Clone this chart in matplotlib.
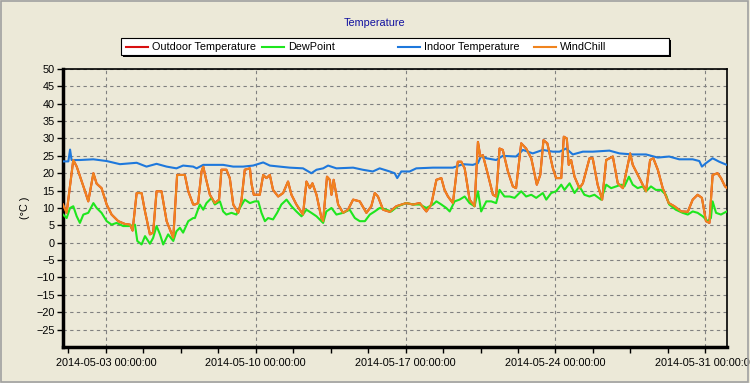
import pandas as pd
import matplotlib
matplotlib.use("Agg")
import matplotlib.pyplot as plt
from matplotlib.lines import Line2D
from matplotlib.patches import Rectangle


START = pd.Timestamp("2014-05-01")
END = pd.Timestamp("2014-06-01")

# values, time in days after 2014-05-01 00:00

chill_days = [
    0.0, 0.17, 0.48, 0.64, 1.03, 1.18, 1.42, 1.57, 1.8, 2.04, 2.27, 2.58, 2.89,
    3.13, 3.25, 3.44, 3.67, 3.83, 4.06, 4.21, 4.37, 4.6, 4.84, 5.15, 5.33, 5.69,
    5.85, 6.08, 6.16, 6.31, 6.47, 6.55, 6.67, 6.86, 7.09, 7.29, 7.4, 7.63, 7.79,
    7.95, 8.18, 8.33, 8.49, 8.73, 8.8, 8.91, 9.19, 9.35, 9.5, 9.66, 9.81, 10.05,
    10.28, 10.51, 10.67, 10.9, 11.21, 11.37, 11.53, 11.65, 11.84, 12.07, 12.15,
    12.33, 12.46, 12.54, 12.64, 12.85, 13.08, 13.31, 13.55, 13.86, 14.17, 14.4,
    14.56, 14.71, 14.95, 15.26, 15.57, 16.03, 16.35, 16.66, 16.97, 17.2, 17.44,
    17.67, 17.82, 17.98, 18.21, 18.44, 18.6, 18.76, 18.99, 19.22, 19.38, 19.49,
    19.61, 19.85, 20.08, 20.23, 20.39, 20.54, 20.78, 21.01, 21.16, 21.4, 21.63,
    21.87, 22.13, 22.29, 22.44, 22.62, 22.88, 23.03, 23.27, 23.39, 23.53, 23.62,
    23.73, 23.89, 24.12, 24.28, 24.59, 24.74, 24.97, 25.18, 25.37, 25.68, 25.91,
    26.15, 26.38, 26.49, 26.61, 26.92, 27.23, 27.42, 27.57, 27.78, 28.01, 28.29,
    28.55, 28.87, 29.18, 29.41, 29.64, 29.84, 30.03, 30.19, 30.34, 30.57, 30.73,
    30.92, 31.0,
]
wind_chill = [
    11.0, 8.6, 23.8, 21.9, 14.8, 11.9, 20.0, 17.0, 15.7, 11.0, 8.1, 6.2, 5.4,
    5.2, 3.5, 14.3, 14.3, 9.0, 2.4, 2.9, 14.8, 14.8, 6.2, 1.4, 19.5, 19.5,
    14.8, 11.0, 11.0, 11.4, 20.5, 21.9, 18.6, 13.8, 11.4, 12.4, 21.0, 21.0, 18.6,
    11.0, 8.6, 11.9, 21.0, 21.4, 17.1, 13.8, 13.8, 19.5, 18.6, 19.5, 15.2, 13.3,
    14.3, 17.6, 13.8, 11.0, 8.1, 17.6, 15.7, 17.1, 13.8, 7.1, 6.2,
    19.0, 18.1, 13.8, 18.1, 11.0, 8.6, 9.5, 12.4, 11.9, 8.6, 10.5,
    14.3, 13.3, 9.5, 8.9, 10.5, 11.4, 11.0, 11.4, 9.0, 11.0, 18.1,
    18.6, 15.2, 13.3, 11.4, 23.3, 23.3, 21.4, 12.4, 10.5, 29.0, 24.8,
    25.2, 19.5, 13.8, 13.3, 27.1, 26.7, 20.5, 16.2, 15.7, 28.6, 27.1,
    24.3, 16.7, 19.5, 29.5, 28.6, 21.4, 18.6, 18.6, 30.5, 30.0, 22.4,
    23.8, 19.0, 15.7, 17.1, 24.3, 24.3, 16.7, 12.4, 23.8, 24.8, 17.1,
    15.7, 22.4, 25.7, 22.4, 18.6, 14.8, 23.8, 24.3, 21.0, 15.7, 11.4,
    10.5, 9.0, 8.9, 12.4, 13.8, 12.9, 6.2, 5.7, 19.5, 20.0, 18.6,
    16.2, 15.8,
]
# outdoor temperature equals wind chill here (hidden under the orange line)
outdoor_temp = list(wind_chill)

dew_days = [
    0.0, 0.17, 0.33, 0.48, 0.64, 0.79, 0.95, 1.18, 1.42, 1.57, 1.8, 2.04, 2.27,
    2.5, 2.81, 3.13, 3.36, 3.47, 3.67, 3.83, 4.06, 4.21, 4.37, 4.53, 4.68, 4.91,
    5.15, 5.3, 5.46, 5.61, 5.85, 6.08, 6.16, 6.39, 6.55, 6.7, 6.94, 7.09, 7.33,
    7.48, 7.63, 7.87, 8.1, 8.26, 8.49, 8.73, 8.96, 9.12, 9.27, 9.43, 9.58, 9.81,
    10.0, 10.2, 10.44, 10.67, 10.9, 11.14, 11.37, 11.6, 11.84, 12.15, 12.3,
    12.54, 12.77, 13.08, 13.39, 13.63, 13.86, 14.1, 14.33, 14.56, 14.79, 15.1,
    15.33, 15.64, 16.03, 16.35, 16.66, 16.97, 17.28, 17.44, 17.67, 17.9, 18.06,
    18.29, 18.52, 18.76, 18.99, 19.22, 19.38, 19.53, 19.77, 20.0, 20.23, 20.39,
    20.62, 20.86, 21.09, 21.4, 21.63, 21.87, 22.1, 22.41, 22.57, 22.8, 23.03,
    23.27, 23.42, 23.66, 23.89, 24.12, 24.35, 24.59, 24.82, 25.13, 25.37, 25.6,
    25.83, 26.07, 26.22, 26.43, 26.61, 26.84, 27.07, 27.23, 27.46, 27.69, 27.92,
    28.16, 28.31, 28.62, 28.94, 29.18, 29.41, 29.64, 29.88, 30.11, 30.26, 30.34,
    30.5, 30.73, 31.0,
]
dew_point = [
    8.1, 7.1, 10.0, 10.5, 7.6, 5.7, 8.1, 8.6, 11.4, 10.0, 8.6, 6.2, 5.2,
    5.7, 4.8, 4.8, 5.2, 0.5, -0.5, 1.9, -0.3, 1.4, 4.8, 2.4, -0.5, 2.4,
    0.5, 3.3, 4.3, 2.9, 6.2, 7.1, 7.1, 11.0, 9.5, 11.4, 12.9, 11.0, 11.9,
    9.0, 8.1, 8.6, 8.1, 10.0, 12.4, 11.4, 11.9, 11.9, 8.6, 6.2, 7.1, 6.7,
    8.6, 11.0, 12.4, 10.5, 9.0, 7.6, 9.5, 8.6, 7.6, 5.7, 9.0,
    10.0, 8.1, 8.6, 9.5, 7.1, 6.2, 6.2, 8.1, 9.0, 10.0, 9.5,
    9.0, 10.5, 11.4, 11.0, 11.0, 10.0, 11.0, 11.9, 11.0, 10.0, 9.0,
    11.9, 12.4, 13.3, 11.4, 10.5, 14.8, 9.0, 11.9, 11.9, 11.4, 15.2,
    13.3, 13.3, 12.9, 14.8, 13.3, 13.8, 12.9, 14.3, 12.4, 14.3, 14.8,
    16.7, 15.2, 17.1, 14.3, 16.2, 13.8, 13.3, 13.8, 12.4, 16.7, 15.7,
    16.2, 16.7, 16.2, 19.0, 16.7, 15.7, 16.2, 14.8, 16.2, 15.2, 15.2,
    13.8, 11.0, 9.5, 8.6, 8.1, 9.0, 8.6, 7.6, 6.2, 7.1, 11.9,
    8.6, 8.1, 9.0,
]

indoor_days = [
    0.0, 0.25, 0.33, 0.4, 0.79, 1.42, 2.04, 2.66, 3.44, 3.9, 4.37, 4.84, 5.3,
    5.61, 6.08, 6.24, 6.55, 7.01, 7.48, 7.95, 8.41, 8.88, 9.35, 9.66, 10.12,
    10.59, 11.21, 11.6, 11.84, 12.15, 12.38, 12.77, 13.55, 14.0, 14.47, 14.79,
    15.26, 15.49, 15.61, 15.8, 16.19, 16.5, 17.28, 18.21, 18.68, 19.14, 19.38,
    19.53, 19.77, 20.23, 20.54, 21.16, 21.48, 21.94, 22.41, 22.88, 23.19, 23.5,
    23.81, 24.28, 24.74, 25.52, 25.99, 26.61, 27.23, 27.78, 28.31, 28.78, 29.41,
    29.72, 29.84, 30.03, 30.34, 30.65, 31.0,
]
indoor_temp = [
    23.4, 23.4, 26.8, 23.8, 23.8, 24.0, 23.5, 22.6, 23.0, 21.9, 22.7, 21.9, 21.4,
    22.2, 21.9, 21.4, 22.4, 22.4, 22.4, 21.9, 21.9, 22.2, 23.1, 22.2, 21.9,
    21.6, 21.4, 20.0, 21.0, 21.4, 22.2, 21.4, 21.6, 21.0, 20.5, 21.4,
    20.5, 20.0, 18.6, 20.5, 20.5, 21.4, 21.6, 21.6, 22.6, 22.4, 22.9,
    25.0, 24.3, 23.8, 25.0, 24.8, 26.7, 25.7, 26.7, 26.2, 26.2, 27.1,
    25.4, 26.2, 26.2, 26.5, 25.7, 25.4, 25.4, 24.5, 24.8, 24.0, 24.0,
    23.5, 21.9, 22.9, 24.3, 23.3, 22.4,
]

series_names = ["Outdoor Temperature", "DewPoint", "Indoor Temperature", "WindChill"]
series_colors = ["#D81010", "#1EE61E", "#1E78DC", "#F0841E"]

y_ticks = list(range(-25, 55, 5))


def to_time(days):
    return START + pd.to_timedelta(days, unit="D")


plt.rcParams["font.family"] = ["Liberation Sans", "DejaVu Sans"]
bg = "#ECE9D8"

fig = plt.figure(figsize=(7.5, 3.83), dpi=100, facecolor=bg)
ax = fig.add_axes([0.084, 0.094, 0.885, 0.726], facecolor=bg)

data = [
    (chill_days, outdoor_temp),
    (dew_days, dew_point),
    (indoor_days, indoor_temp),
    (chill_days, wind_chill),
]
for (days, vals), color in zip(data, series_colors):
    ax.plot(to_time(days), vals, color=color, lw=1.5, zorder=3)

ax.set_xlim(START, END)
ax.set_ylim(-30, 50)
ax.set_yticks(y_ticks)

major = pd.date_range("2014-05-03", periods=5, freq="7D")
minor = pd.date_range("2014-05-01 06:00", END, freq="42h")
ax.set_xticks(major)
ax.set_xticklabels([d.strftime("%Y-%m-%d %H:%M:%S") for d in major])
ax.set_xticks(minor, minor=True)

ax.tick_params(axis="both", labelsize=7.8, length=4, width=1, colors="black", pad=2)
ax.tick_params(axis="x", which="minor", length=4, width=1)
ax.tick_params(axis="x", pad=4)

ax.grid(True, which="major", color="#808080", lw=0.8, ls=(0, (3, 3)))

for side in ["left", "bottom"]:
    ax.spines[side].set_linewidth(2.5)
for side in ["top", "right"]:
    ax.spines[side].set_linewidth(1.2)

ax.set_ylabel("(°C )", fontsize=7.8, labelpad=4)

fig.text(0.5, 0.94, "Temperature", ha="center", va="center",
         fontsize=7.8, color="#1010A0")

# legend box drawn by hand so the columns are evenly spaced
fig.add_artist(Rectangle((123 / 750, 1 - 57 / 383), 548 / 750, 17 / 383,
                         transform=fig.transFigure, facecolor="black",
                         edgecolor="none"))
fig.add_artist(Rectangle((121 / 750, 1 - 55 / 383), 548 / 750, 17 / 383,
                         transform=fig.transFigure, facecolor="white",
                         edgecolor="black", lw=0.8))
for i, (name, color) in enumerate(zip(series_names, series_colors)):
    x0 = (126 + 136 * i) / 750
    y0 = 1 - 46.5 / 383
    fig.add_artist(Line2D([x0, x0 + 22 / 750], [y0, y0], color=color, lw=1.5,
                          transform=fig.transFigure))
    fig.text(x0 + 26 / 750, y0, name, ha="left", va="center", fontsize=7.8)

fig.add_artist(Rectangle((0.001, 0.003), 0.996, 0.995, transform=fig.transFigure,
                         facecolor="none", edgecolor="#A0A0A0", lw=1.2))

fig.savefig("out.png", dpi=100, facecolor=bg)
